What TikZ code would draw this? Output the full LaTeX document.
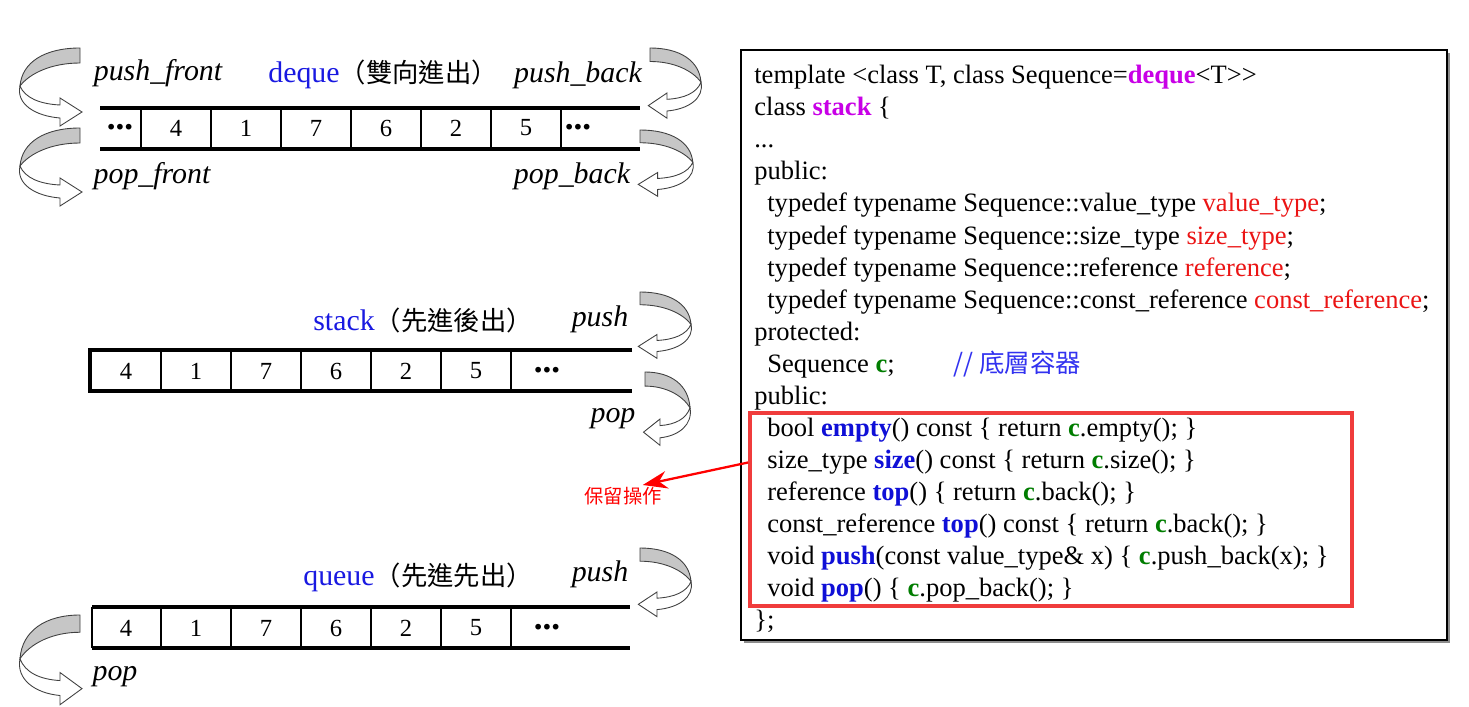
\documentclass[tikz,border=0pt]{standalone}
\usepackage{fontspec}
\setmainfont{Liberation Serif}
\newfontfamily\cjk{Noto Sans CJK TC}
\usetikzlibrary{arrows.meta}

\definecolor{lblblue}{RGB}{25,25,225}
\definecolor{kwpurple}{RGB}{200,0,230}
\definecolor{typered}{RGB}{235,20,20}
\definecolor{memgreen}{RGB}{0,125,0}
\definecolor{fnblue}{RGB}{15,15,215}
\definecolor{cmtblue}{RGB}{50,50,240}
\definecolor{boxred}{RGB}{240,60,60}

\newcommand{\fn}[1]{\textcolor{fnblue}{\textbf{#1}}}
\newcommand{\mem}{\textcolor{memgreen}{\textbf{c}}}
\newcommand{\tyname}[1]{\textcolor{typered}{#1}}
\newcommand{\ind}{\hspace*{0.26cm}}
\newcommand{\celldots}{{\fontsize{20}{20}\selectfont\textbf{\raisebox{0.15ex}{...}}}}

\tikzset{
  opname/.style={font=\fontsize{17}{20}\selectfont\itshape, inner sep=0pt},
  kindname/.style={font=\fontsize{17}{20}\selectfont, anchor=west, inner sep=0pt},
  cellnum/.style={font=\fontsize{14}{16}\selectfont, inner sep=0pt},
  rail/.style={line width=2.6pt, line cap=butt},
  bendarrow/.pic={
    % gray back of the ribbon
    \filldraw[fill=gray!45, draw=black!75, line width=0.5pt]
      (0,0) .. controls (-35,0) and (-58,14) .. (-60,38)
      .. controls (-50,25) and (-28,15) .. (0,15) -- cycle;
    % white front of the ribbon with the head
    \filldraw[fill=white, draw=black!75, line width=0.5pt]
      (-60,38) .. controls (-55,50) and (-40,56) .. (-20,57) -- (-20,50) -- (2,64)
      -- (-20,78) -- (-20,70) .. controls (-45,68) and (-64,56) .. (-60,38) -- cycle;
  }
}

\begin{document}
\begin{tikzpicture}[x=0.02cm, y=-0.02cm]
    \useasboundingbox (0,0) rectangle (1469,706);

    % deque: open at both ends
    \draw[rail] (100,108) -- (640,108);
    \draw[rail] (100,149) -- (640,149);
    \foreach \x in {141,211,...,561} \draw[line width=0.6pt] (\x,108) -- (\x,149);
    \node[cellnum] (dq0) at (120,128) {\celldots};
    \foreach \v [count=\i] in {4,1,7,6,2,5}
        \node[cellnum] (dq\i) at (106+70*\i,128) {\v};
    \node[cellnum] (dq7) at (578,128) {\celldots};

    \node[opname] (pushfront) at (158,73) {push\_front};
    \node[kindname] (dequename) at (268,74) {\textcolor{lblblue}{deque}{\cjk\fontsize{15}{18}\selectfont （雙向進出）}};
    \node[opname] (pushback) at (578,75) {push\_back};
    \node[opname] (popfront) at (152,176) {pop\_front};
    \node[opname] (popback) at (572,176) {pop\_back};

    \pic at (80,48) {bendarrow};
    \pic at (80,128) {bendarrow};
    \pic[xscale=-0.85, yscale=0.9] at (650,48) {bendarrow};
    \pic[xscale=-0.88, yscale=0.85] at (640,130) {bendarrow};

    % stack: closed on the left
    \draw[rail] (632,350) -- (90,350) -- (90,391) -- (632,391);
    \foreach \x in {161,231,...,511} \draw[line width=0.6pt] (\x,350) -- (\x,391);
    \foreach \v [count=\i] in {4,1,7,6,2,5}
        \node[cellnum] (st\i) at (56+70*\i,371) {\v};
    \node[cellnum] (st7) at (547,371) {\celldots};

    \node[kindname] (stackname) at (313,320) {\textcolor{lblblue}{stack}{\cjk\fontsize{15}{18}\selectfont （先進後出）}};
    \node[opname] (stpush) at (600,319) {push};
    \node[opname] (stpop) at (613,419) {pop};

    \pic[xscale=-0.85, yscale=0.85] at (640,292) {bendarrow};
    \pic[xscale=-0.75, yscale=0.94] at (645,372) {bendarrow};

    % queue: in at the back, out at the front
    \draw[rail] (92,607) -- (630,607);
    \draw[rail] (92,648) -- (630,648);
    \foreach \x in {92,161,231,...,511} \draw[line width=0.6pt] (\x,607) -- (\x,648);
    \foreach \v [count=\i] in {4,1,7,6,2,5}
        \node[cellnum] (qu\i) at (56+70*\i,628) {\v};
    \node[cellnum] (qu7) at (547,628) {\celldots};

    \node[kindname] (queuename) at (303,577) {\textcolor{lblblue}{queue}{\cjk\fontsize{15}{18}\selectfont （先進先出）}};
    \node[opname] (qupush) at (600,574) {push};
    \node[opname] (qupop) at (115,677) {pop};

    \pic[xscale=-0.85, yscale=0.88] at (640,548) {bendarrow};
    \pic[yscale=1.15] at (80,615) {bendarrow};

    % source of stack, with shadow
    \fill[black!45] (744,53) rectangle (1450,643);
    \draw[fill=white, line width=0.8pt] (741,50) rectangle (1447,640);
    \node[anchor=north west, align=left, inner sep=0pt,
          font=\fontsize{15.1}{18.24}\selectfont] (code) at (754,65) {%
        template <class T, class Sequence=\textcolor{kwpurple}{\textbf{deque}}<T>{}>\\
        class \textcolor{kwpurple}{\textbf{stack}} \{\\
        ...\\
        public:\\
        \ind typedef typename Sequence::value\_type \tyname{value\_type};\\
        \ind typedef typename Sequence::size\_type \tyname{size\_type};\\
        \ind typedef typename Sequence::reference \tyname{reference};\\
        \ind typedef typename Sequence::const\_reference \tyname{const\_reference};\\
        protected:\\
        \ind Sequence \mem;\hspace{1.18cm}{\cjk\fontsize{14.5}{14}\selectfont\color{cmtblue}// 底層容器}\\
        public:\\
        \ind bool \fn{empty}() const \{ return \mem.empty(); \}\\
        \ind size\_type \fn{size}() const \{ return \mem.size(); \}\\
        \ind reference \fn{top}() \{ return \mem.back(); \}\\
        \ind const\_reference \fn{top}() const \{ return \mem.back(); \}\\
        \ind void \fn{push}(const value\_type\& x) \{ \mem.push\_back(x); \}\\
        \ind void \fn{pop}() \{ \mem.pop\_back(); \}\\
        \};};

    % kept operations
    \node[draw=boxred, line width=2.3pt, minimum width=12.04cm, minimum height=3.86cm] (keepbox) at (1051,509.5) {};
    \node[font=\cjk\fontsize{11}{13}\selectfont, text=red, inner sep=1pt] (keep) at (623,496) {保留操作};
    \draw[red, line width=1.3pt, -{Stealth[length=14pt, width=10pt]}]
        ([yshift=0.94cm]keepbox.west) -- ([xshift=-0.42cm]keep.north east);
\end{tikzpicture}
\end{document}
